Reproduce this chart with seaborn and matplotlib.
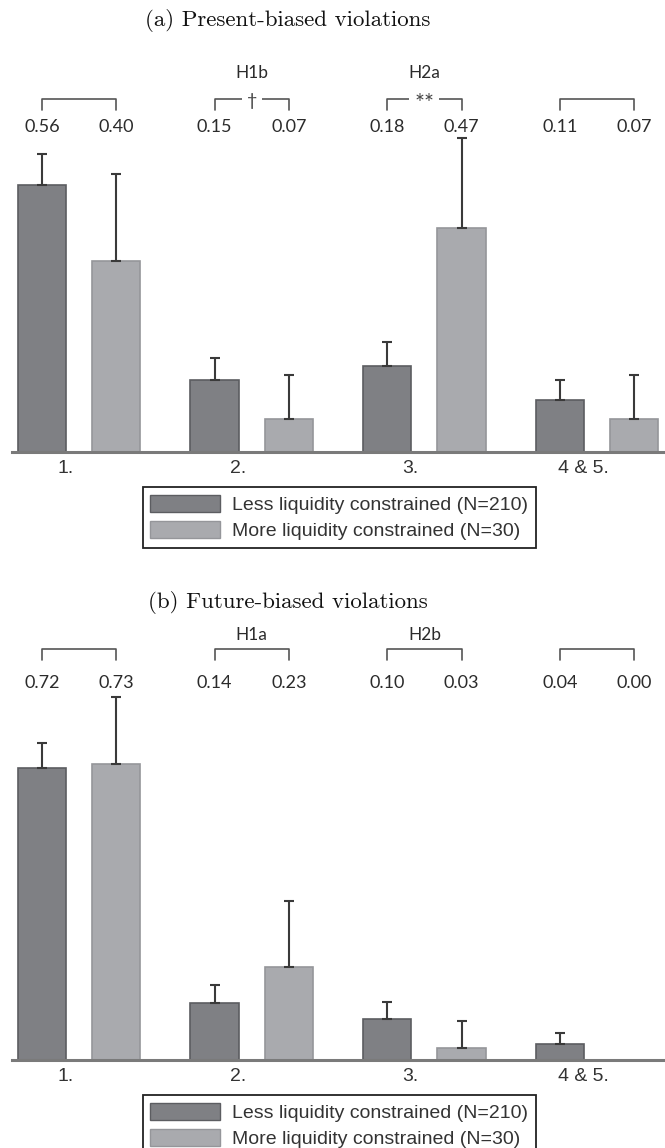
import matplotlib
matplotlib.use("Agg")
import numpy as np
import pandas as pd
import matplotlib.pyplot as plt
import matplotlib.patches as mpatches
import seaborn as sns

# categories and groups
categories = ["1.", "2.", "3.", "4 & 5."]
groups = ["Less liquidity constrained (N=210)", "More liquidity constrained (N=30)"]

# (a) present-biased violations
present_less = [0.56, 0.15, 0.18, 0.11]
present_more = [0.40, 0.07, 0.47, 0.07]
present_less_err = [0.065, 0.048, 0.050, 0.040]
present_more_err = [0.184, 0.092, 0.189, 0.092]
present_hyp = ["", "H1b", "H2a", ""]
present_sig = ["", "\u2020", "**", ""]

# (b) future-biased violations
future_less = [0.72, 0.14, 0.10, 0.04]
future_more = [0.73, 0.23, 0.03, 0.00]
future_less_err = [0.062, 0.044, 0.042, 0.027]
future_more_err = [0.165, 0.163, 0.067, 0.0]
future_hyp = ["", "H1a", "H2b", ""]
future_sig = ["", "", "", ""]

DARK = "#7f8084"
DARK_EDGE = "#5c5d61"
LIGHT = "#a9aaae"
LIGHT_EDGE = "#95969a"
NUM_FONT = ["Lato", "DejaVu Sans"]
AX_FONT = ["Liberation Sans", "DejaVu Sans"]

sns.set_style("white")

W, H = 665, 1148
fig = plt.figure(figsize=(W / 100, H / 100), dpi=100)


def draw_panel(ax, less, more, less_err, more_err, hyp, sig, title, title_y, lay, legend_top):
    df = pd.DataFrame({
        "category": categories * 2,
        "group": [groups[0]] * len(categories) + [groups[1]] * len(categories),
        "value": less + more,
    })
    sns.barplot(data=df, x="category", y="value", hue="group", order=categories,
                hue_order=groups, palette=[DARK, LIGHT], saturation=1, width=0.86,
                gap=0.35, errorbar=None, linewidth=1.2, legend=False, ax=ax)

    centers = []
    for cont, err, edge in zip(ax.containers, [less_err, more_err], [DARK_EDGE, LIGHT_EDGE]):
        xs = np.array([p.get_x() + p.get_width() / 2 for p in cont.patches])
        hs = np.array([p.get_height() for p in cont.patches])
        for p in cont.patches:
            p.set_edgecolor(edge)
        e = np.array(err)
        keep = e > 0
        ax.errorbar(xs[keep], hs[keep], yerr=[np.zeros(keep.sum()), e[keep]], fmt="none",
                    ecolor="#3a3a3a", elinewidth=1.5, capsize=3.5, capthick=1.5, zorder=3)
        centers.append(xs)

    # numbers, brackets and hypothesis labels
    for i in range(len(categories)):
        x0, x1 = centers[0][i], centers[1][i]
        ax.text(x0, lay["num"], f"{less[i]:.2f}", ha="center", va="center",
                fontsize=13, color="#2b2b2b", family=NUM_FONT)
        ax.text(x1, lay["num"], f"{more[i]:.2f}", ha="center", va="center",
                fontsize=13, color="#2b2b2b", family=NUM_FONT)
        ax.plot([x0, x0, x1, x1], [lay["end"], lay["top"], lay["top"], lay["end"]],
                color="#555555", lw=1.2, clip_on=False)
        mid = (x0 + x1) / 2
        if sig[i] == "**":
            ax.text(mid, lay["top"] - 0.01, sig[i], ha="center", va="center", fontsize=17,
                    color="#444444", family=NUM_FONT,
                    bbox=dict(facecolor="white", edgecolor="none", pad=3.5))
        elif sig[i]:
            ax.text(mid, lay["top"] - 0.004, sig[i], ha="center", va="center", fontsize=13,
                    color="#444444", family=NUM_FONT,
                    bbox=dict(facecolor="white", edgecolor="none", pad=3.5))
        if hyp[i]:
            ax.text(mid, lay["hyp"], hyp[i], ha="center", va="center",
                    fontsize=12.5, color="#2b2b2b", family=NUM_FONT)

    ax.set_ylim(0, lay["ylim"])
    ax.set_xlim(-0.388, 3.393)
    ax.set_xticks([i - 0.08 for i in range(len(categories))], categories)
    ax.tick_params(axis="x", length=0, pad=6, labelsize=14, labelcolor="#333333")
    for lab in ax.get_xticklabels():
        lab.set_family(AX_FONT)
    ax.set_yticks([])
    ax.set_xlabel("")
    ax.set_ylabel("")
    for s in ["top", "left", "right"]:
        ax.spines[s].set_visible(False)
    ax.spines["bottom"].set_color("#7a7a7a")
    ax.spines["bottom"].set_linewidth(2.2)

    fig.text(0.433, title_y, title, ha="center", va="center", fontsize=16.5,
             family="cmr10", color="#111111")

    handles = [mpatches.Patch(facecolor=DARK, edgecolor=DARK_EDGE, linewidth=1.0),
               mpatches.Patch(facecolor=LIGHT, edgecolor=LIGHT_EDGE, linewidth=1.0)]
    leg = ax.legend(handles, groups, loc="upper center", bbox_to_anchor=(0.51, legend_top),
                    bbox_transform=fig.transFigure, frameon=True, fancybox=False,
                    framealpha=1, edgecolor="#222222", borderpad=0.4, borderaxespad=0,
                    handlelength=3.6, handleheight=0.95, handletextpad=0.6,
                    labelspacing=0.38, prop={"family": AX_FONT, "size": 14})
    leg.get_frame().set_linewidth(1.3)
    for t in leg.get_texts():
        t.set_color("#333333")


# panel (a): baseline at 452 px, top at 40 px
ax_a = fig.add_axes([12 / W, 1 - 452 / H, 653 / W, 412 / H])
draw_panel(ax_a, present_less, present_more, present_less_err, present_more_err,
           present_hyp, present_sig, "(a) Present-biased violations", 1 - 20 / H,
           dict(ylim=0.864, num=0.681, top=0.740, end=0.717, hyp=0.795), 1 - 487 / H)

# panel (b): baseline at 1060 px, top at 620 px
ax_b = fig.add_axes([12 / W, 1 - 1060 / H, 653 / W, 440 / H])
draw_panel(ax_b, future_less, future_more, future_less_err, future_more_err,
           future_hyp, future_sig, "(b) Future-biased violations", 1 - 602 / H,
           dict(ylim=1.086, num=0.931, top=1.015, end=0.988, hyp=1.049), 1 - 1095 / H)

fig.savefig("out.png", dpi=100, facecolor="white")
